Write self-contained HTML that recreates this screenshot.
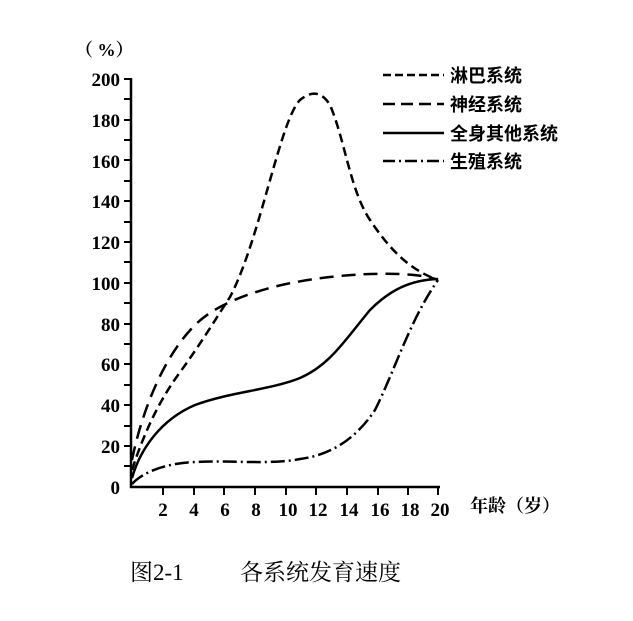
<!DOCTYPE html>
<html><head><meta charset="utf-8"><style>body{margin:0;background:#fff}</style></head><body>
<svg width="633" height="616" xmlns="http://www.w3.org/2000/svg" font-family="'Liberation Serif','Noto Serif CJK SC',serif">
<g stroke="#000" stroke-width="2.5" fill="none">
<line x1="131" y1="78" x2="131" y2="488"/>
<line x1="130" y1="487" x2="440" y2="487"/>
<g stroke-width="2">
<path d="M124 79H131M124 99H131M124 120H131M124 140H131M124 160H131M124 181H131M124 201H131M124 222H131M124 242H131M124 262H131M124 283H131M124 303H131M124 324H131M124 344H131M124 364H131M124 385H131M124 405H131M124 426H131M124 446H131M124 466H131"/>
<path d="M163 487V495M194 487V495M224 487V495M255 487V495M286 487V495M316 487V495M347 487V495M378 487V495M408 487V495M438 487V495"/>
</g>
</g>
<g font-size="19" font-weight="bold" text-anchor="end">
<text x="120" y="86">200</text><text x="120" y="127">180</text><text x="120" y="168">160</text><text x="120" y="208">140</text><text x="120" y="249">120</text><text x="120" y="290">100</text><text x="120" y="331">80</text><text x="120" y="371">60</text><text x="120" y="412">40</text><text x="120" y="453">20</text><text x="120" y="494">0</text>
</g>
<g font-size="19" font-weight="bold" text-anchor="middle">
<text x="163" y="516">2</text><text x="194" y="516">4</text><text x="225" y="516">6</text><text x="256" y="516">8</text><text x="288" y="516">10</text><text x="318" y="516">12</text><text x="349" y="516">14</text><text x="380" y="516">16</text><text x="410" y="516">18</text><text x="440" y="516">20</text>
</g>
<text x="75" y="56" font-size="18" font-weight="bold">（ %）</text>
<text x="470" y="512" font-size="18" font-weight="bold">年龄（岁）</text>
<g fill="none" stroke="#000" stroke-width="2.5">
<path d="M132 470 C145 430 160 400 178 375 C200 345 215 320 230 297 C260 240 280 120 300 100 C312 90 322 92 330 105 C345 140 350 190 370 220 C390 250 410 270 438 280" stroke-dasharray="9,5"/>
<path d="M132 460 C140 420 160 360 195 325 C215 305 250 292 286 284 C330 275 370 273 400 274 C420 275 430 277 438 280" stroke-dasharray="14,8"/>
<path d="M132 478 C140 450 160 420 195 405 C230 392 270 390 300 378 C330 365 345 340 370 310 C390 290 410 280 438 279"/>
<path d="M132 484 C145 470 170 463 195 462 C230 460 270 465 300 459 C330 455 355 440 375 410 C395 370 410 320 438 280" stroke-dasharray="14,4,2,4"/>
</g>
<g stroke="#000" stroke-width="2.5">
<line x1="383" y1="75" x2="444" y2="75" stroke-dasharray="8,4"/>
<line x1="383" y1="104" x2="444" y2="104" stroke-dasharray="12,6"/>
<line x1="383" y1="133" x2="444" y2="133"/>
<line x1="383" y1="161" x2="444" y2="161" stroke-dasharray="12,4,2,4"/>
</g>
<g font-size="18" font-weight="bold" font-family="'Noto Sans CJK SC',sans-serif">
<text x="450" y="82">淋巴系统</text><text x="450" y="111">神经系统</text><text x="450" y="140">全身其他系统</text><text x="450" y="168">生殖系统</text>
</g>
<text x="130" y="580" font-size="23">图2-1</text>
<text x="240" y="580" font-size="23">各系统发育速度</text>
</svg>
</body></html>
